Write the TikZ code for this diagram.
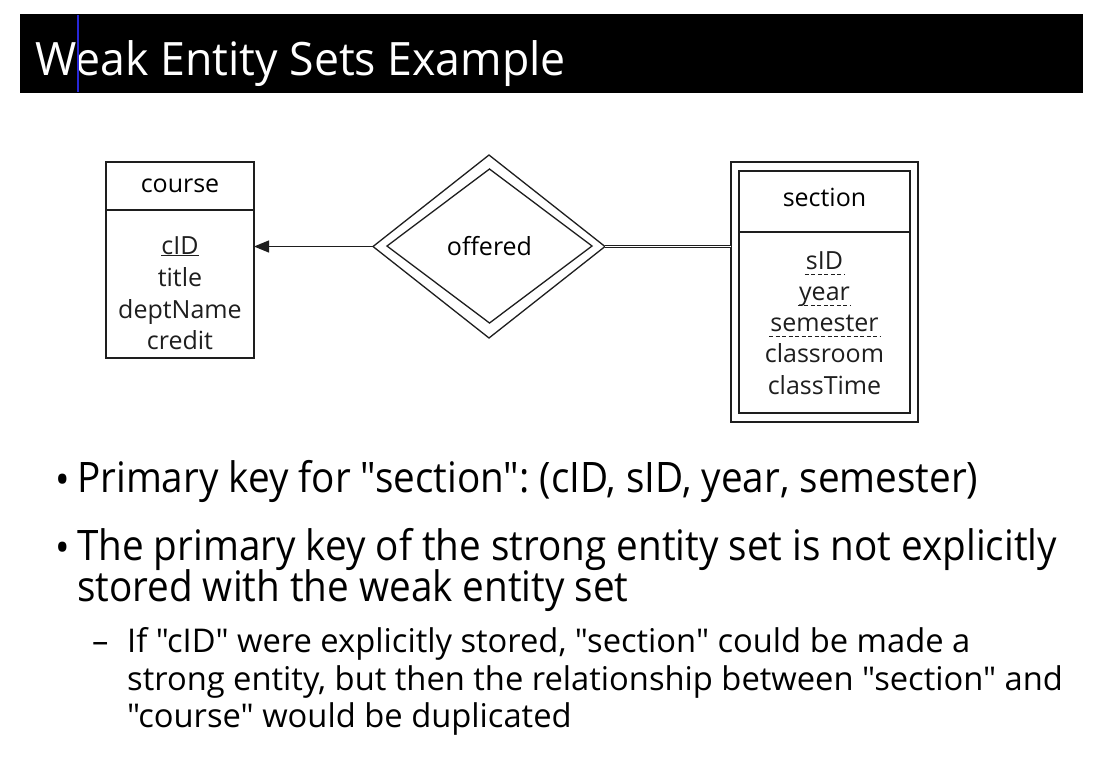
\documentclass[tikz,border=0pt]{standalone}
\usepackage{fontspec}
\setmainfont{Open Sans}
\newfontfamily\slidefont[FakeStretch=0.92]{Open Sans}
\newfontfamily\plainfont{Open Sans}
\usetikzlibrary{shapes.geometric,arrows.meta,positioning}
\definecolor{erdark}{RGB}{30,30,30}
\definecolor{cursorblue}{RGB}{40,40,215}
\frenchspacing

\begin{document}
\begin{tikzpicture}[x=1pt,y=-1pt,
  ebox/.style={draw=erdark,line width=1.3pt,minimum width=148pt,inner sep=0pt,outer sep=0pt,font=\fontsize{25}{28}\selectfont},
  attr/.style={anchor=base,font=\fontsize{25}{28}\selectfont,inner sep=1pt,text=erdark},
  rel/.style={draw=erdark,line width=1.3pt,diamond,inner sep=0pt,outer sep=0pt},
  item/.style={anchor=base west,inner sep=0pt,font=\slidefont\fontsize{42}{41}\selectfont},
  subitem/.style={anchor=base west,inner sep=0pt,font=\plainfont\fontsize{32.7}{38}\selectfont},
  keyline/.style={erdark,line width=1pt,dash pattern=on 4pt off 2.5pt},
]
  \useasboundingbox (0,0) rectangle (1094,772);
  \fill[white] (0,0) rectangle (1094,772);

  % title bar
  \node[fill=black,minimum width=1063pt,minimum height=79pt,inner sep=0pt,anchor=north west] (titlebar) at (20,14) {};
  \node[anchor=base west,inner sep=0pt,text=white,font=\plainfont\fontsize{46}{50}\selectfont\addfontfeature{FakeStretch=0.97}] (title) at (35,75) {Weak Entity Sets Example};
  \draw[cursorblue,line width=1.6pt] (titlebar.north west) ++(58,1) -- ++(0,77);

  % strong entity
  \node[ebox,minimum height=48pt] (coursehead) at (180,186) {course};
  \node[ebox,minimum height=148pt,below=0pt of coursehead] (coursebody) {};
  \foreach \n/\t/\y in {cid/\underline{cID}/254,title/title/286,dept/deptName/318,credit/credit/349}
    \node[attr] (\n) at (180,\y) {\t};

  % relationship
  \node[rel,minimum width=232pt,minimum height=183pt] (offeredout) at (489,246.5) {};
  \node[rel,minimum width=205pt,minimum height=154pt,font=\fontsize{25}{28}\selectfont] (offered) at (489.5,246) {offered};

  % weak entity
  \node[ebox,minimum width=187pt,minimum height=260pt] (sectionout) at (824.5,292) {};
  \node[ebox,minimum width=171pt,minimum height=61pt] (sectionhead) at (824.5,201.5) {\raisebox{8pt}{section}};
  \node[ebox,minimum width=171pt,minimum height=181pt,below=0pt of sectionhead] (sectionbody) {};
  \foreach \n/\t/\y in {sid/sID/269,year/year/300,sem/semester/331,room/classroom/362,time/classTime/394}
    \node[attr] (\n) at (824.5,\y) {\t};
  \foreach \n in {sid,year,sem}
    \draw[keyline] ([yshift=-5pt]\n.base west) -- ([yshift=-5pt]\n.base east);

  % connectors
  \draw[erdark,line width=1.2pt,-{Triangle[length=15pt,width=12pt]}] (offeredout.west) -- (offeredout.west -| coursebody.east);
  \draw[erdark,line width=0.9pt,double=white,double distance=1.8pt] (offeredout.east) -- (offeredout.east -| sectionout.west);

  % bullets
  \node[item] (dot1) at (55,494) {•};
  \node[item] (item1) at (77,492) {Primary key for "section": (cID, sID, year, semester)};
  \node[item] (dot2) at (55,562) {•};
  \node[item] (item2a) at (77,560) {The primary key of the strong entity set is not explicitly};
  \node[item] (item2b) at (77,601) {stored with the weak entity set};
  \node[subitem] (dash1) at (92,652) {–};
  \node[subitem] (sub1a) at (127,652) {If "cID" were explicitly stored, "section" could be made a};
  \node[subitem] (sub1b) at (127,690) {strong entity, but then the relationship between "section" and};
  \node[subitem] (sub1c) at (127,727) {"course" would be duplicated};
\end{tikzpicture}
\end{document}
